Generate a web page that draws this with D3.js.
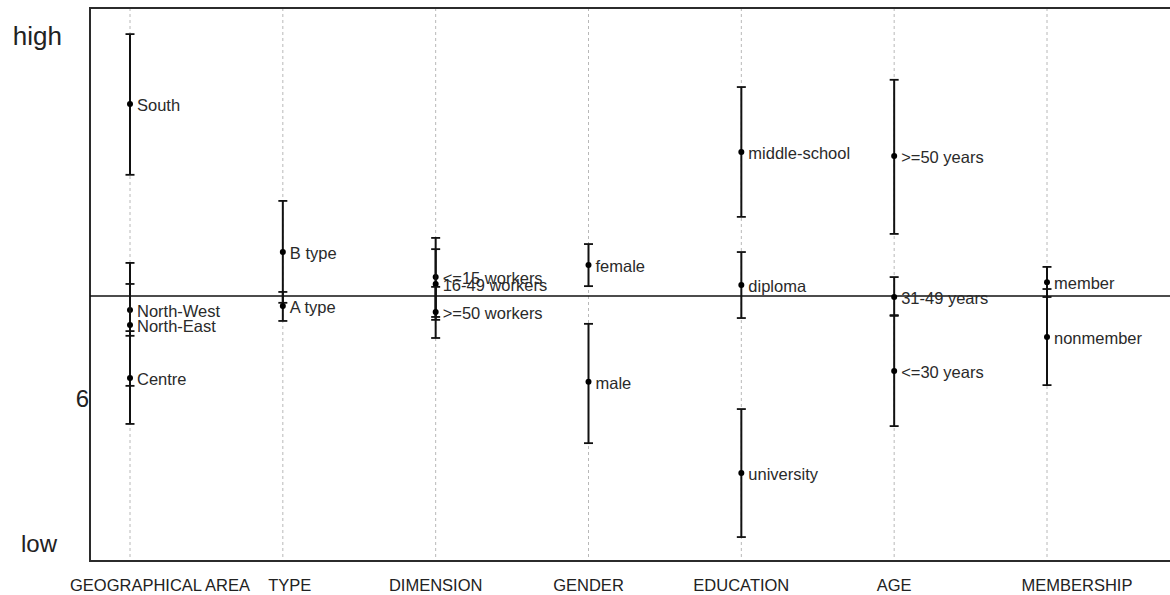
<!DOCTYPE html>
<html>
<head>
<meta charset="utf-8">
<script src="https://cdn.jsdelivr.net/npm/d3@7"></script>
<style>
  html, body { margin: 0; padding: 0; background: #fff; }
  svg { display: block; font-family: "Liberation Sans", Arial, sans-serif; }
</style>
</head>
<body>
<svg id="chart" width="1170" height="595"></svg>
<script>
// Factor groups along the x axis
const groups = ["GEOGRAPHICAL AREA", "TYPE", "DIMENSION", "GENDER", "EDUCATION", "AGE", "MEMBERSHIP"];

// One entry per level: its group, name, estimated mean and interval bounds
const levelGroup = [
  "GEOGRAPHICAL AREA", "GEOGRAPHICAL AREA", "GEOGRAPHICAL AREA", "GEOGRAPHICAL AREA",
  "TYPE", "TYPE",
  "DIMENSION", "DIMENSION", "DIMENSION",
  "GENDER", "GENDER",
  "EDUCATION", "EDUCATION", "EDUCATION",
  "AGE", "AGE", "AGE",
  "MEMBERSHIP", "MEMBERSHIP"
];
const levelName = [
  "South", "North-West", "North-East", "Centre",
  "B type", "A type",
  "<=15 workers", "16-49 workers", ">=50 workers",
  "female", "male",
  "middle-school", "diploma", "university",
  ">=50 years", "31-49 years", "<=30 years",
  "member", "nonmember"
];
const levelMean = [
  6.810, 6.242, 6.201, 6.055,
  6.402, 6.253,
  6.333, 6.314, 6.237,
  6.366, 6.044,
  6.678, 6.311, 5.793,
  6.667, 6.278, 6.074,
  6.319, 6.168
];
const levelLow = [
  6.615, 6.171, 6.033, 5.928,
  6.262, 6.212,
  6.223, 6.215, 6.165,
  6.308, 5.875,
  6.499, 6.220, 5.616,
  6.452, 6.226, 5.922,
  6.278, 6.035
];
const levelHigh = [
  7.003, 6.314, 6.372, 6.184,
  6.543, 6.292,
  6.441, 6.410, 6.306,
  6.424, 6.204,
  6.857, 6.402, 5.969,
  6.877, 6.333, 6.228,
  6.361, 6.300
];

// Overall mean (horizontal reference line)
const grandMean = 6.281;

// Y axis annotations
const yTickValues = [7, 6, 5.6];
const yTickLabels = ["high", "6", "low"];

const svg = d3.select("#chart");
const plotLeft = 90, plotTop = 8, plotBottom = 561, plotRight = 1172;

const x = d3.scalePoint().domain(groups).range([130, 1047]);
const y = d3.scaleLinear().domain([5.55, 7.075]).range([plotBottom, plotTop]);

// Dashed guide lines at each group
svg.append("g").selectAll("line")
  .data(groups).join("line")
  .attr("x1", d => x(d)).attr("x2", d => x(d))
  .attr("y1", plotTop).attr("y2", plotBottom)
  .attr("stroke", "#b8b8b8").attr("stroke-width", 1)
  .attr("stroke-dasharray", "3,3");

// Frame: left, top and bottom edges
svg.append("path")
  .attr("d", `M${plotRight},${plotTop}H${plotLeft}V${plotBottom}H${plotRight}`)
  .attr("stroke", "#2b2b2b").attr("stroke-width", 2).attr("fill", "none");

// Grand mean line
svg.append("line")
  .attr("x1", plotLeft).attr("x2", plotRight)
  .attr("y1", y(grandMean)).attr("y2", y(grandMean))
  .attr("stroke", "#111").attr("stroke-width", 1.5);

// Y axis labels
const yAxis = d3.axisLeft(y)
  .tickValues(yTickValues)
  .tickSize(0)
  .tickPadding(0)
  .tickFormat((d, i) => yTickLabels[i]);
const yg = svg.append("g").attr("transform", `translate(${plotLeft},0)`).call(yAxis);
yg.select(".domain").remove();
const yLabelRight = { "high": 62 - plotLeft, "6": -1, "low": 57 - plotLeft };
const yLabelSize = { "high": 26, "6": 24, "low": 24 };
yg.selectAll(".tick text")
  .attr("x", (d, i) => yLabelRight[yTickLabels[i]])
  .attr("dy", "0.35em")
  .attr("font-size", (d, i) => yLabelSize[yTickLabels[i]])
  .attr("font-family", "\"Liberation Sans\", Arial, sans-serif")
  .attr("fill", "#222");

// Group labels below the frame
const groupLabelShift = { "GEOGRAPHICAL AREA": 30, "TYPE": 7, "MEMBERSHIP": 30 };
svg.append("g").selectAll("text")
  .data(groups).join("text")
  .attr("x", d => x(d) + (groupLabelShift[d] || 0))
  .attr("y", 585)
  .attr("dy", "0.35em")
  .attr("text-anchor", "middle")
  .attr("font-size", 16.5)
  .attr("fill", "#222")
  .text(d => d);

// Levels: interval bars, caps, points and labels
const levels = levelName.map((name, i) => ({
  group: levelGroup[i], name, mean: levelMean[i], lo: levelLow[i], hi: levelHigh[i]
}));

const capHalf = 4.5;
const lv = svg.append("g").selectAll("g.level").data(levels).join("g").attr("class", "level");

lv.append("line")
  .attr("x1", d => x(d.group)).attr("x2", d => x(d.group))
  .attr("y1", d => y(d.lo)).attr("y2", d => y(d.hi))
  .attr("stroke", "#111").attr("stroke-width", 2);
lv.append("line")
  .attr("x1", d => x(d.group) - capHalf).attr("x2", d => x(d.group) + capHalf)
  .attr("y1", d => y(d.lo)).attr("y2", d => y(d.lo))
  .attr("stroke", "#111").attr("stroke-width", 1.8);
lv.append("line")
  .attr("x1", d => x(d.group) - capHalf).attr("x2", d => x(d.group) + capHalf)
  .attr("y1", d => y(d.hi)).attr("y2", d => y(d.hi))
  .attr("stroke", "#111").attr("stroke-width", 1.8);
lv.append("circle")
  .attr("cx", d => x(d.group)).attr("cy", d => y(d.mean))
  .attr("r", 3).attr("fill", "#000");
lv.append("text")
  .attr("x", d => x(d.group) + 7)
  .attr("y", d => y(d.mean) + 1.5)
  .attr("dy", "0.35em")
  .attr("font-size", 16.5)
  .attr("fill", "#2a2a2a")
  .text(d => d.name);
</script>
</body>
</html>
